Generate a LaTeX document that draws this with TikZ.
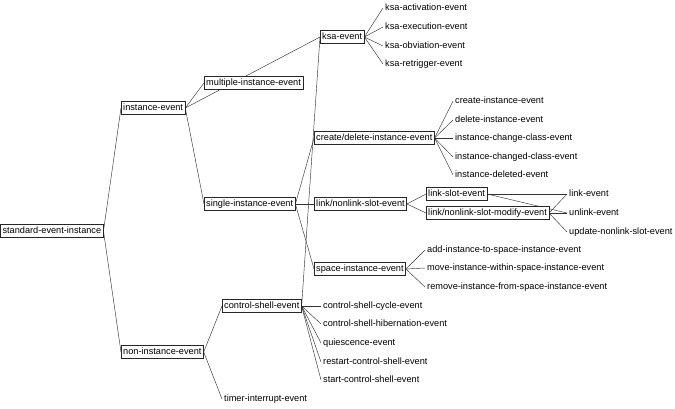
\documentclass[tikz,border=0pt]{standalone}
\usepackage{fontspec}
\setmainfont{Liberation Sans}
\usetikzlibrary{graphs}
\usetikzlibrary{backgrounds}

\begin{document}
\begin{tikzpicture}[x=1bp,y=-1bp,
  leaf/.style={anchor=west,inner xsep=2bp,inner ysep=2bp,text height=7bp,text depth=2bp,font=\fontsize{9.2bp}{11bp}\selectfont},
  cls/.style={leaf,draw=black!85,fill=white,line width=0.45bp},
  branch/.style={draw=black!80,line width=0.45bp,to path={(\tikztostart.east) -- (\tikztotarget.west)}}]
\useasboundingbox (0,0) rectangle (675,408);
\node (std) [cls] at (0.3,231) {standard-event-instance};
\node (inst) [cls] at (121,108) {instance-event};
\node (multi) [cls] at (204,83) {multiple-instance-event};
\node (single) [cls] at (204,204) {single-instance-event};
\node (noninst) [cls] at (121,352) {non-instance-event};
\node (shell) [cls] at (222,306) {control-shell-event};
\node (timer) [leaf] at (222,399) {timer-interrupt-event};
\node (ksa) [cls] at (320,37) {ksa-event};
\node (act) [leaf] at (383,8) {ksa-activation-event};
\node (exe) [leaf] at (383,27) {ksa-execution-event};
\node (obv) [leaf] at (383,46) {ksa-obviation-event};
\node (retr) [leaf] at (383,64) {ksa-retrigger-event};
\node (crdel) [cls] at (314,138) {create/delete-instance-event};
\node (cre) [leaf] at (453,101) {create-instance-event};
\node (del) [leaf] at (453,120) {delete-instance-event};
\node (chg) [leaf] at (453,138) {instance-change-class-event};
\node (chgd) [leaf] at (453,157) {instance-changed-class-event};
\node (deld) [leaf] at (453,175) {instance-deleted-event};
\node (lnk) [cls] at (314,204) {link/nonlink-slot-event};
\node (lslot) [cls] at (426,194) {link-slot-event};
\node (lmod) [cls] at (426,213) {link/nonlink-slot-modify-event};
\node (link) [leaf] at (567,194) {link-event};
\node (unlink) [leaf] at (567,213) {unlink-event};
\node (upd) [leaf] at (567,232) {update-nonlink-slot-event};
\node (space) [cls] at (314,269) {space-instance-event};
\node (add) [leaf] at (425,250) {add-instance-to-space-instance-event};
\node (move) [leaf] at (425,268) {move-instance-within-space-instance-event};
\node (remove) [leaf] at (425,287) {remove-instance-from-space-instance-event};
\node (cycle) [leaf] at (321,306) {control-shell-cycle-event};
\node (hib) [leaf] at (321,324) {control-shell-hibernation-event};
\node (quiet) [leaf] at (321,343) {quiescence-event};
\node (restart) [leaf] at (321,362) {restart-control-shell-event};
\node (start) [leaf] at (321,380) {start-control-shell-event};
\begin{scope}[on background layer]
\graph[edges=branch] {
  (std) -- {(inst), (noninst)};
  (inst) -- {(multi), (single), (ksa)};
  (noninst) -- {(shell), (timer)};
  (shell) -- {(ksa), (cycle), (hib), (quiet), (restart), (start)};
  (ksa) -- {(act), (exe), (obv), (retr)};
  (single) -- {(crdel), (lnk), (space)};
  (crdel) -- {(cre), (del), (chg), (chgd), (deld)};
  (lnk) -- {(lslot), (lmod)};
  (lslot) -- {(link), (unlink)};
  (lmod) -- {(link), (unlink), (upd)};
  (space) -- {(add), (move), (remove)};
};
\end{scope}
\end{tikzpicture}
\end{document}
